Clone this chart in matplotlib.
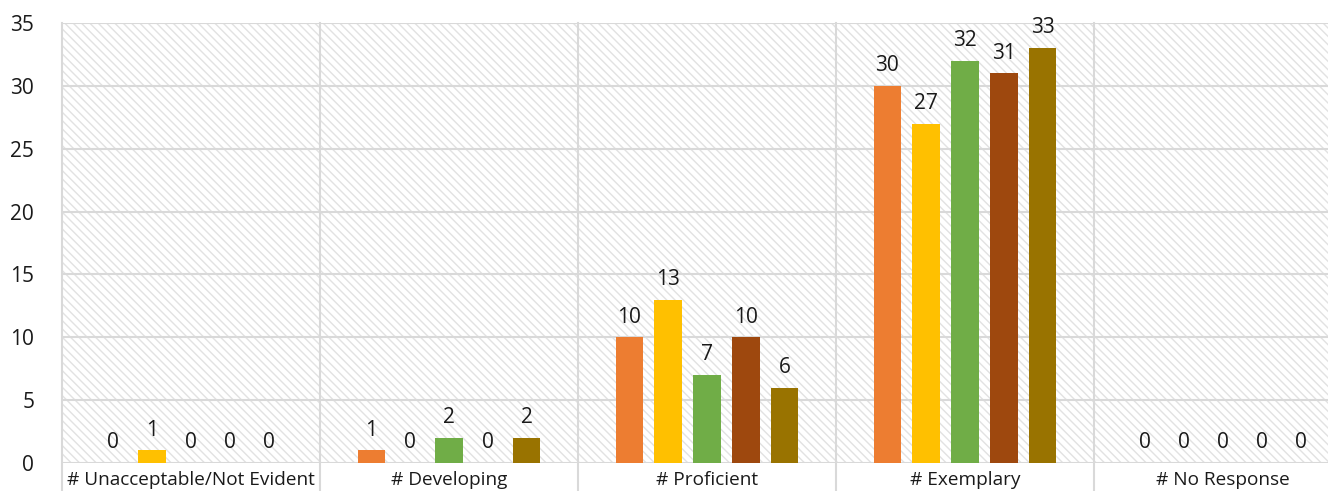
import matplotlib.pyplot as plt
from matplotlib.patches import Rectangle
import numpy as np

categories = ['# Unacceptable/Not Evident', '# Developing', '# Proficient',
              '# Exemplary', '# No Response']
series = [
    [0, 1, 10, 30, 0],
    [1, 0, 13, 27, 0],
    [0, 2, 7, 32, 0],
    [0, 0, 10, 31, 0],
    [0, 2, 6, 33, 0],
]
colors = ['#ED7D31', '#FFC000', '#70AD47', '#9E480E', '#997300']
yticks = [0, 5, 10, 15, 20, 25, 30, 35]

plt.rcParams['font.family'] = ['Open Sans', 'DejaVu Sans']
grid_c = '#d9d9d9'

W, H = 1328, 491
fig = plt.figure(figsize=(W / 100, H / 100), dpi=100)
left, right, top, bottom = 62, 1352, 23, 463
ax = fig.add_axes([left / W, (H - bottom) / H, (right - left) / W, (bottom - top) / H])

ax.set_xlim(-0.5, len(categories) - 0.5)
ax.set_ylim(0, 35)

# hatched background
ax.add_patch(Rectangle((0, 0), 1, 1, transform=ax.transAxes, facecolor='white',
                       edgecolor='#e2e2e2', hatch='\\\\\\\\', lw=0, zorder=0))

for y in yticks:
    ax.axhline(y, color=grid_c, lw=1.5, zorder=1)

# category separators extend into the label row
for b in np.arange(-0.5, len(categories), 1.0):
    ax.plot([b, b], [35, -3], color=grid_c, lw=1.5, clip_on=False, zorder=1)

x = np.arange(len(categories))
step, width = 0.151, 0.105
for i, (vals, c) in enumerate(zip(series, colors)):
    pos = x + (i - 2) * step
    bars = ax.bar(pos, vals, width=width, color=c, zorder=3)
    for p, v in zip(pos, vals):
        ax.annotate(str(v), (p, v), xytext=(0, 7), textcoords='offset points',
                    ha='center', va='bottom', fontsize=15, color='#1a1a1a')

for xi, name in zip(x, categories):
    ax.annotate(name, (xi, 0), xytext=(0, -12.5), textcoords='offset points',
                ha='center', va='center', fontsize=13.7, color='#1a1a1a',
                annotation_clip=False)

ax.set_xticks([])
ax.set_yticks(yticks)
ax.tick_params(axis='y', length=0, pad=20, labelsize=15, labelcolor='#1a1a1a')
for s in ax.spines.values():
    s.set_visible(False)

fig.savefig('out.png', dpi=100)
